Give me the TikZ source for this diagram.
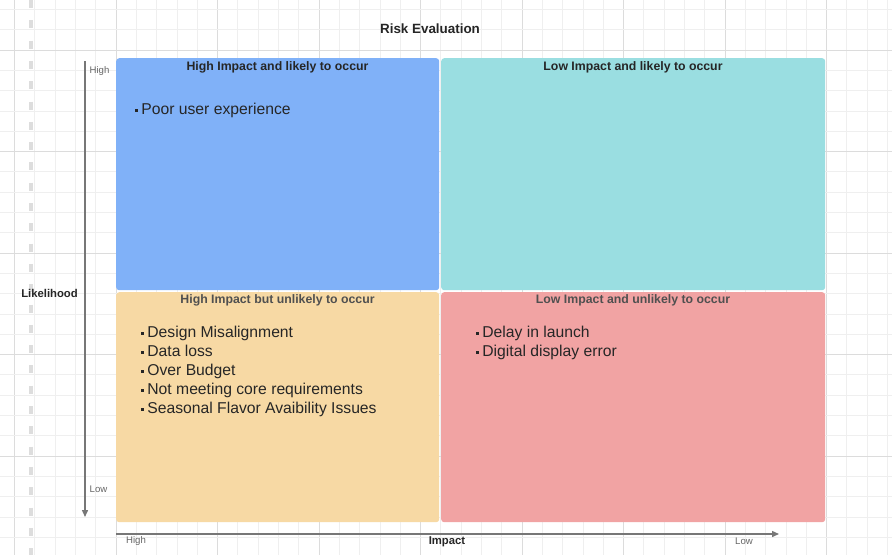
\documentclass[tikz,border=0pt]{standalone}
\usepackage{fontspec}
\setmainfont{Liberation Sans}
\usetikzlibrary{arrows.meta}

\definecolor{gridminor}{HTML}{EFEFEF}
\definecolor{gridmajor}{HTML}{DCDCDC}
\definecolor{guide}{HTML}{DDDDDD}
\definecolor{quadBlue}{HTML}{80B1F8}
\definecolor{quadCyan}{HTML}{9ADEE1}
\definecolor{quadSand}{HTML}{F7D9A4}
\definecolor{quadRose}{HTML}{F1A3A3}
\definecolor{axisgray}{HTML}{777777}
\definecolor{inktext}{HTML}{262626}
\definecolor{softtext}{HTML}{505050}
\definecolor{ticktext}{HTML}{666666}

\tikzset{
  quad/.style={rectangle, rounded corners=3pt, draw=none, inner sep=0pt, anchor=north west},
  quadhead/.style={font=\fontsize{12.3}{14}\selectfont\bfseries, text=inktext, inner sep=0pt},
  quadheadsoft/.style={quadhead, text=softtext},
  items/.style={font=\fontsize{15.7}{19}\selectfont, text=inktext, inner sep=0pt, anchor=base west},
  axislabel/.style={font=\fontsize{11.3}{13}\selectfont\bfseries, text=inktext, inner sep=0pt},
  ticklabel/.style={font=\fontsize{9.6}{11}\selectfont, text=ticktext, inner sep=0pt},
  axisline/.style={draw=axisgray, line width=1.4pt, -{Triangle[length=7pt, width=6pt]}},
}
% small square list marker followed by the gap before the item text
\newcommand{\bul}{\makebox[6.2pt][l]{\raisebox{3pt}{\rule{3pt}{3pt}}}}

\begin{document}
\begin{tikzpicture}[x=1pt, y=-1pt]
  \useasboundingbox (0,0) rectangle (892,555);
  \fill[white] (0,0) rectangle (892,555);

  % background grid: minor every 20.3, heavier every fifth line
  \foreach \i in {0,...,43} {
    \pgfmathtruncatemacro{\m}{mod(\i,5)}
    \ifnum\m=0
      \draw[gridmajor, line width=0.9pt] ({14.5+20.3*\i},0) -- ({14.5+20.3*\i},555);
    \else
      \draw[gridminor, line width=0.8pt] ({14.5+20.3*\i},0) -- ({14.5+20.3*\i},555);
    \fi
  }
  \foreach \j in {0,...,27} {
    \pgfmathtruncatemacro{\m}{mod(\j+3,5)}
    \ifnum\m=0
      \draw[gridmajor, line width=0.9pt] (0,{9.4+20.3*\j}) -- (892,{9.4+20.3*\j});
    \else
      \draw[gridminor, line width=0.8pt] (0,{9.4+20.3*\j}) -- (892,{9.4+20.3*\j});
    \fi
  }

  % page guide
  \draw[guide, line width=3.2pt, dash pattern=on 8pt off 12.3pt] (31,0) -- (31,555);

  % title
  \node[font=\fontsize{13.4}{15}\selectfont\bfseries, text=inktext, inner sep=0pt] (title) at (430,29) {Risk Evaluation};

  % quadrants
  \node[quad, fill=quadBlue, minimum width=323pt, minimum height=232pt] (hl) at (116,58) {};
  \node[quad, fill=quadCyan, minimum width=384pt, minimum height=232pt] (ll) at (441,58) {};
  \node[quad, fill=quadSand, minimum width=323pt, minimum height=230pt] (hu) at (116,292) {};
  \node[quad, fill=quadRose, minimum width=384pt, minimum height=230pt] (lu) at (441,292) {};

  % quadrant headings
  \node[quadhead] (hlh) at (277.5,67) {High Impact and likely to occur};
  \node[quadhead] (llh) at (633,67) {Low Impact and likely to occur};
  \node[quadheadsoft] (huh) at (277.5,300) {High Impact but unlikely to occur};
  \node[quadheadsoft] (luh) at (633,300) {Low Impact and unlikely to occur};

  % risk items
  \node[items] (hli1) at (135,114.6) {\bul Poor user experience};

  \node[items] (hui1) at (141,337.6) {\bul Design Misalignment};
  \node[items] (hui2) at (141,356.6) {\bul Data loss};
  \node[items] (hui3) at (141,375.6) {\bul Over Budget};
  \node[items] (hui4) at (141,394.6) {\bul Not meeting core requirements};
  \node[items] (hui5) at (141,413.6) {\bul Seasonal Flavor Avaibility Issues};

  \node[items] (lui1) at (476,337.6) {\bul Delay in launch};
  \node[items] (lui2) at (476,356.6) {\bul Digital display error};

  % likelihood axis
  \coordinate (ytop) at (85,61);
  \coordinate (ybot) at (85,517);
  \draw[axisline] (ytop) -- (ybot);
  \node[ticklabel] (yhigh) at (99.5,71) {High};
  \node[ticklabel] (ylow) at (98.5,489) {Low};
  \node[axislabel] (ylab) at (49.5,293) {Likelihood};

  % impact axis
  \coordinate (xleft) at (116,534);
  \coordinate (xright) at (779,534);
  \draw[axisline] (xleft) -- (xright);
  \node[ticklabel] (xhigh) at (136,541) {High};
  \node[axislabel] (xlab) at (447,541.5) {Impact};
  \node[ticklabel] (xlow) at (744,541) {Low};
\end{tikzpicture}
\end{document}
